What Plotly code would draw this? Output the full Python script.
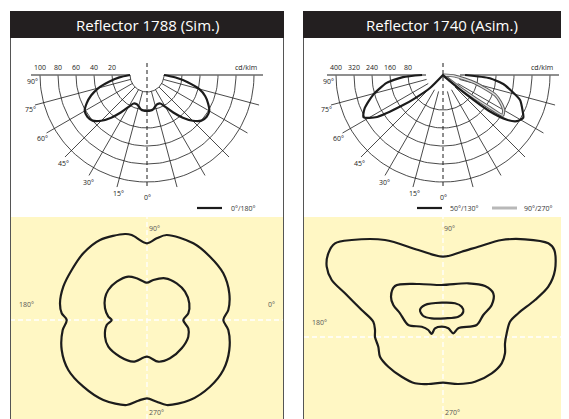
import numpy as np
import plotly.graph_objects as go

W, H = 569, 419          # window size
OX, OY = 8, 8            # page body margin of the browser
FW, FH = W - OX, H - OY  # figure size

# ------------------------------------------------------------------ data
TITLE_LEFT = "Reflector 1788 (Sim.)"
TITLE_RIGHT = "Reflector 1740 (Asim.)"
UNIT_LABEL = "cd/klm"
ANGLE_TICKS = [0, 15, 30, 45, 60, 75, 90]

# left photometric diagram, plane 0°/180° (cd/klm)
L_RINGS = [20, 40, 60, 80, 100]
L_GAMMA = [0, 5, 10, 15, 20, 25, 30, 35, 40, 45, 50, 55, 60, 65, 70, 75, 80, 85, 90]
L_I_0 = [21, 21, 20, 17, 15.5, 16, 22, 32, 43, 53, 60, 62, 61, 56, 50, 41, 27, 13, 0]
L_I_180 = [21, 21, 20, 17, 15.5, 16, 22, 32, 43, 53, 60, 62, 61, 55, 47, 37, 24, 12, 0]
L_LEGEND = "0°/180°"

# right photometric diagram (cd/klm)
R_RINGS = [80, 160, 240, 320, 400]
R_GAMMA_50 = [0, 45, 48, 50, 52, 55, 58, 62, 66, 72, 78, 81, 86, 90]
R_I_50 = [0, 0, 36, 133, 258, 347, 387, 404, 387, 360, 302, 276, 209, 98]
R_GAMMA_130 = [0, 40, 45, 50, 53, 57.5, 62, 67, 74, 82, 87, 90]
R_I_130 = [0, 0, 80, 156, 222, 347, 400, 378, 324, 253, 178, 93]
R_GAMMA_90 = [0, 50, 53, 55, 56, 60, 65, 69, 76, 85, 90]
R_I_90 = [0, 0, 111, 253, 320, 311, 280, 249, 147, 53, 0]
R_LEGEND_A = "50°/130°"
R_LEGEND_B = "90°/270°"

# isolux diagrams (m)
ISO_AXIS_LABELS = ["90°", "180°", "0°", "270°"]
ISO_L_OUT_X = [0.0, -1.53, -2.2, -4.7, -6.37, -7.53, -8.37, -8.7, -8.53, -8.03, -8.43, -8.53,
               -7.87, -6.37, -4.37, -2.03, -0.87, 0.0, 0.97, 1.97, 4.3, 6.3, 7.63, 8.23, 8.13,
               7.63, 8.13, 8.23, 7.63, 6.3, 4.63, 1.97, 0.97]
ISO_L_OUT_Y = [7.67, 8.5, 8.6, 8.0, 6.67, 5.0, 3.33, 1.67, 0.67, 0.0, -1.0, -3.0, -5.0, -6.67,
               -8.0, -8.5, -8.07, -7.83, -8.17, -8.5, -8.0, -6.67, -5.0, -3.0, -1.0, 0.0, 1.0,
               2.67, 4.67, 6.33, 7.67, 8.5, 8.17]
ISO_L_IN_X = [0.0, -1.03, -1.87, -3.03, -3.87, -4.2, -4.2, -3.87, -3.53, -4.03, -4.2, -3.87, -2.7,
              -1.37, 0.0, 1.13, 2.3, 3.47, 4.13, 4.13, 3.63, 4.13, 4.23, 3.8, 2.97, 1.8, 0.63]
ISO_L_IN_Y = [3.73, 4.17, 4.33, 3.83, 3.0, 2.17, 1.17, 0.33, 0.0, -0.5, -1.67, -2.67, -3.67,
              -4.17, -3.67, -4.17, -3.83, -2.83, -1.67, -0.83, 0.0, 0.67, 1.67, 2.83, 3.67,
              4.17, 4.0]
ISO_R_OUT_X = [0.0, -2.47, -5.8, -9.13, -10.8, -11.47, -11.63, -11.13, -9.8, -8.13, -6.97, -6.8,
               -6.8, -6.47, -6.3, -5.47, -4.13, -2.8, -1.47, 0.0, 1.53, 3.2, 4.87, 5.87, 6.2,
               6.2, 6.37, 6.7, 7.53, 9.2, 10.53, 11.2, 11.13, 10.53, 8.2, 5.87, 3.53, 1.87]
ISO_R_OUT_Y = [8.03, 8.7, 9.7, 9.7, 9.37, 8.37, 7.03, 5.7, 4.37, 2.7, 1.53, 0.7, 0.0, -0.97,
               -1.97, -2.97, -3.97, -4.63, -4.7, -4.57, -4.7, -4.47, -3.63, -2.63, -1.63,
               -0.63, 0.37, 1.53, 2.37, 3.7, 5.03, 6.7, 8.7, 9.37, 9.77, 9.7, 9.03, 8.53]
ISO_R_MID_X = [-4.8, -2.47, -0.13, 2.53, 4.2, 5.03, 4.87, 4.03, 3.37, 1.53, 1.03, 0.53, -0.13,
               -0.8, -1.13, -1.47, -2.13, -3.47, -4.3, -4.97, -5.2]
ISO_R_MID_Y = [5.1, 5.3, 5.2, 5.37, 5.1, 4.37, 3.2, 2.2, 1.2, 0.87, 0.37, 0.87, 1.03, 0.87, 0.3,
               0.7, 1.03, 1.2, 2.37, 3.2, 4.03]
ISO_R_IN_X = [-2.3, -1.8, -0.13, 1.2, 1.87, 2.03, 1.53, 0.2, -1.13, -1.97]
ISO_R_IN_Y = [2.7, 3.2, 3.43, 3.37, 3.03, 2.53, 2.03, 1.87, 1.87, 2.1]

# ------------------------------------------------------------------ style
INK = "#1c1c1c"
YELLOW = "#FFF7C4"
FONT = "Open Sans"
HOLE_PX = 17.0
RING_STEP_PX = 18.0

fig = go.Figure()
layout_axes = {}
annotations = []
shapes = []


def fx(x):
    return (x - OX) / FW


def fy(y):
    return 1 - (y - OY) / FH


def add_axes(idx, box, center, scale):
    x0, x1, y0, y1 = box
    cx, cy = center
    xn = "xaxis" if idx == 1 else f"xaxis{idx}"
    yn = "yaxis" if idx == 1 else f"yaxis{idx}"
    xa = "x" if idx == 1 else f"x{idx}"
    ya = "y" if idx == 1 else f"y{idx}"
    layout_axes[xn] = dict(domain=[fx(x0), fx(x1)], range=[(x0 - cx) / scale, (x1 - cx) / scale],
                           visible=False, fixedrange=True, anchor=ya)
    layout_axes[yn] = dict(domain=[fy(y1), fy(y0)], range=[(cy - y1) / scale, (cy - y0) / scale],
                           visible=False, fixedrange=True, anchor=xa)
    return xa, ya


def px_ann(text, x, y, size=7, color="#333", xanchor="center", yanchor="middle", fam=FONT):
    annotations.append(dict(text=text, x=fx(x), y=fy(y), xref="paper", yref="paper",
                            showarrow=False, xanchor=xanchor, yanchor=yanchor,
                            font=dict(size=size, color=color, family=fam)))


def px_rect(x0, y0, x1, y1, fill, layer="below"):
    shapes.append(dict(type="rect", xref="paper", yref="paper", x0=fx(x0), x1=fx(x1),
                       y0=fy(y1), y1=fy(y0), fillcolor=fill, line=dict(width=0), layer=layer))


def px_line(x0, y0, x1, y1, color, width, dash=None):
    shapes.append(dict(type="line", xref="paper", yref="paper", x0=fx(x0), x1=fx(x1),
                       y0=fy(y0), y1=fy(y1), line=dict(color=color, width=width, dash=dash)))


def polar_xy(gammas, values, side, offset):
    g = np.radians(np.asarray(gammas, float))
    r = offset + np.asarray(values, float)
    return list(side * r * np.sin(g)), list(-r * np.cos(g))


def polar_frame(xa, ya, rings, scale, hole_arc):
    hole = HOLE_PX / scale
    unit = (RING_STEP_PX / scale) / (rings[0])  # axis units per cd/klm
    ring_r = [hole + v * unit for v in rings]
    xs, ys = [], []
    th = np.radians(np.arange(-90, 91, 2))
    for r in ring_r + ([hole] if hole_arc else []):
        xs += list(r * np.sin(th)) + [None]
        ys += list(-r * np.cos(th)) + [None]
    spoke_r = 116 / scale
    for a in ANGLE_TICKS[1:-1]:
        for s in (-1, 1):
            t = np.radians(a)
            xs += [s * hole * np.sin(t), s * spoke_r * np.sin(t), None]
            ys += [-hole * np.cos(t), -spoke_r * np.cos(t), None]
    fig.add_trace(go.Scatter(x=xs, y=ys, mode="lines", xaxis=xa, yaxis=ya, hoverinfo="skip",
                             line=dict(color=INK, width=0.8), showlegend=False))
    lr = 116 / scale
    fig.add_trace(go.Scatter(x=[-lr, -hole, None, hole, lr], y=[0, 0, None, 0, 0], mode="lines",
                             xaxis=xa, yaxis=ya, hoverinfo="skip",
                             line=dict(color="#6a6a6a", width=1.3), showlegend=False))
    fig.add_trace(go.Scatter(x=[0, 0], y=[12 / scale, -112 / scale], mode="lines",
                             xaxis=xa, yaxis=ya, hoverinfo="skip",
                             line=dict(color=INK, width=1, dash="4px,3px"), showlegend=False))
    for v, r in zip(rings, ring_r):
        annotations.append(dict(text=str(v), x=-r, y=1.5 / scale, xref=xa, yref=ya, showarrow=False,
                                xanchor="center", yanchor="bottom",
                                font=dict(size=7, color="#222", family=FONT)))
    annotations.append(dict(text=UNIT_LABEL, x=ring_r[-1] - 8 / scale, y=1.5 / scale, xref=xa, yref=ya,
                            showarrow=False, xanchor="center", yanchor="bottom",
                            font=dict(size=7, color="#222", family=FONT)))
    for a in ANGLE_TICKS:
        rl = (122 if a < 90 else 115) / scale
        al = np.radians(min(a - 1.5, 87) if a > 0 else 0)
        annotations.append(dict(text=f"{a}°", x=-rl * np.sin(al), y=-rl * np.cos(al), xref=xa, yref=ya,
                                showarrow=False, xanchor="center", yanchor="middle",
                                font=dict(size=7, color="#222", family=FONT)))
    return hole, unit


# ------------------------------------------------------------------ panels background
px_rect(10, 217, 283, 419, YELLOW)
px_rect(304, 217, 569, 419, YELLOW)

# ------------------------------------------------------------------ left polar
xa1, ya1 = add_axes(1, (10, 283, 39, 216), (147, 75), 0.9)
hole, unit = polar_frame(xa1, ya1, L_RINGS, 0.9, True)
xl, yl = polar_xy(L_GAMMA[::-1], [v * unit for v in L_I_180[::-1]], -1, hole)
xr, yr = polar_xy(L_GAMMA[1:], [v * unit for v in L_I_0[1:]], 1, hole)
fig.add_trace(go.Scatter(x=xl + xr, y=yl + yr, mode="lines", xaxis=xa1, yaxis=ya1,
                         line=dict(color=INK, width=2.2, shape="spline", smoothing=0.8),
                         name=L_LEGEND, showlegend=False))

# ------------------------------------------------------------------ right polar
SR = 0.225
xa2, ya2 = add_axes(2, (304, 569, 39, 216), (443, 75), SR)
hole_r, unit_r = polar_frame(xa2, ya2, R_RINGS, SR, False)
gx, gy = polar_xy(R_GAMMA_90, R_I_90, 1, 0)
fig.add_trace(go.Scatter(x=gx, y=gy, mode="lines", xaxis=xa2, yaxis=ya2, showlegend=False,
                         line=dict(color="#5a5a5a", width=3.2, shape="spline", smoothing=0.6)))
fig.add_trace(go.Scatter(x=gx, y=gy, mode="lines", xaxis=xa2, yaxis=ya2, name=R_LEGEND_B, showlegend=False,
                         line=dict(color="#dcdcdc", width=1.3, shape="spline", smoothing=0.6)))
bxl, byl = polar_xy(R_GAMMA_130[::-1], R_I_130[::-1], -1, 0)
bxr, byr = polar_xy(R_GAMMA_50[1:], R_I_50[1:], 1, 0)
fig.add_trace(go.Scatter(x=bxl + bxr, y=byl + byr, mode="lines", xaxis=xa2, yaxis=ya2,
                         name=R_LEGEND_A, showlegend=False,
                         line=dict(color=INK, width=2.2, shape="spline", smoothing=0.6)))

# ------------------------------------------------------------------ isolux
for idx, box, center, curves in [
    (3, (10, 283, 217, 419), (147, 320), [(ISO_L_OUT_X, ISO_L_OUT_Y), (ISO_L_IN_X, ISO_L_IN_Y)]),
    (4, (304, 569, 217, 419), (443, 337), [(ISO_R_OUT_X, ISO_R_OUT_Y), (ISO_R_MID_X, ISO_R_MID_Y),
                                           (ISO_R_IN_X, ISO_R_IN_Y)]),
]:
    xa, ya = add_axes(idx, box, center, 10)
    rx = layout_axes["xaxis%d" % idx]["range"]
    ry = layout_axes["yaxis%d" % idx]["range"]
    fig.add_trace(go.Scatter(x=[rx[0], rx[1], None, 0, 0], y=[0, 0, None, ry[0], ry[1]], mode="lines",
                             xaxis=xa, yaxis=ya, hoverinfo="skip", showlegend=False,
                             line=dict(color="white", width=1.3, dash="5px,3px")))
    for cxs, cys in curves:
        fig.add_trace(go.Scatter(x=list(cxs) + [cxs[0]], y=list(cys) + [cys[0]], mode="lines",
                                 xaxis=xa, yaxis=ya, showlegend=False,
                                 line=dict(color=INK, width=2.2, shape="spline", smoothing=0.9)))

# isolux axis labels
px_ann(ISO_AXIS_LABELS[0], 154, 228, color="#555")
px_ann(ISO_AXIS_LABELS[1], 26, 304, color="#555")
px_ann(ISO_AXIS_LABELS[2], 271, 304, color="#555")
px_ann(ISO_AXIS_LABELS[3], 156, 412, color="#555")
px_ann(ISO_AXIS_LABELS[0], 449, 228, color="#555")
px_ann(ISO_AXIS_LABELS[1], 319, 322, color="#555")
px_ann(ISO_AXIS_LABELS[2], 564, 322, color="#555")
px_ann(ISO_AXIS_LABELS[3], 452, 412, color="#555")

# ------------------------------------------------------------------ titles, frames, legends
px_rect(10, 11, 284, 38, "#231f20", layer="above")
px_rect(303, 11, 569, 38, "#231f20", layer="above")
px_ann(TITLE_LEFT, 147, 25, size=15, color="white", fam=FONT)
px_ann(TITLE_RIGHT, 442, 25, size=15, color="white", fam=FONT)
px_line(10.5, 38, 10.5, 419, "#555", 1)
px_line(283.5, 38, 283.5, 419, "#555", 1)
px_line(303.5, 38, 303.5, 419, "#555", 1)

px_line(197, 208, 222, 208, INK, 2.2)
px_ann(L_LEGEND, 229, 208, xanchor="left")
px_line(417, 208, 442, 208, INK, 2.2)
px_ann(R_LEGEND_A, 448, 208, xanchor="left")
px_line(492, 208, 517, 208, "#b8b8b8", 3)
px_ann(R_LEGEND_B, 522, 208, xanchor="left")

fig.update_layout(width=FW, height=FH, margin=dict(l=0, r=0, t=0, b=0),
                  paper_bgcolor="white", plot_bgcolor="rgba(0,0,0,0)",
                  showlegend=False, annotations=annotations, shapes=shapes, **layout_axes)
fig.write_html("out.html")
